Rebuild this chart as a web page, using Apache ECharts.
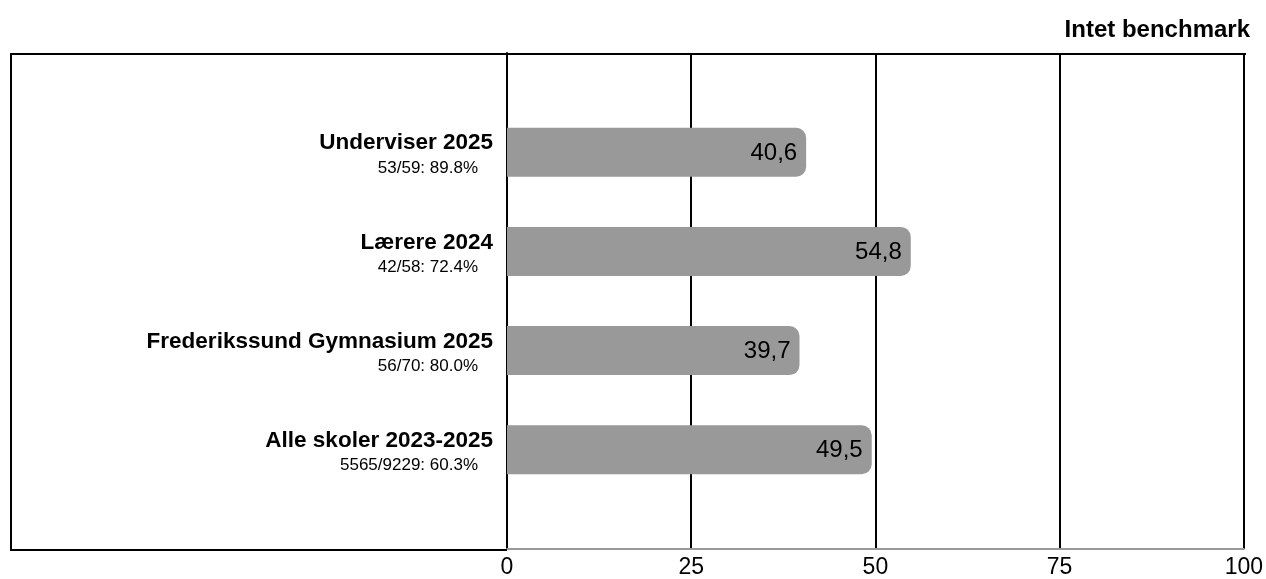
<!DOCTYPE html>
<html>
<head>
<meta charset="utf-8">
<script src="https://cdn.jsdelivr.net/npm/echarts@6/dist/echarts.min.js"></script>
<style>
html,body{margin:0;padding:0;background:#fff;}
#chart{width:1266px;height:579px;}
</style>
</head>
<body>
<div id="chart"></div>
<script>
var titleText = 'Intet benchmark';
var categories = ['Underviser 2025', 'Lærere 2024', 'Frederikssund Gymnasium 2025', 'Alle skoler 2023-2025'];
var subtitles = ['53/59: 89.8%', '42/58: 72.4%', '56/70: 80.0%', '5565/9229: 60.3%'];
var values = [40.6, 54.8, 39.7, 49.5];
var xTicks = [0, 25, 50, 75, 100];

var FONT = "'Liberation Sans', Arial, Helvetica, sans-serif";

// pad with empty slots above and below, as in the reference
var yCats = [''].concat(categories).concat(['']);
var barData = ['-'].concat(values).concat(['-']);
var subMap = {};
categories.forEach(function (c, i) { subMap[c] = subtitles[i]; });

var chart = echarts.init(document.getElementById('chart'), null, {renderer: 'canvas'});
var option = {
  animation: false,
  backgroundColor: '#fff',
  title: {
    text: titleText,
    right: 16,
    top: 18,
    padding: 0,
    textStyle: {fontFamily: FONT, fontSize: 24, fontWeight: 'bold', color: '#000'}
  },
  grid: {left: 507, right: 21, top: 53, bottom: 29, containLabel: false},
  xAxis: {
    type: 'value',
    min: 0, max: 100, interval: 25,
    axisLine: {show: true, lineStyle: {color: '#999', width: 2}},
    axisTick: {show: false},
    splitLine: {show: true, lineStyle: {color: '#000', width: 2}},
    axisLabel: {
      fontFamily: FONT, fontSize: 23, color: '#000', margin: 7,
      formatter: function (v) { return xTicks.indexOf(v) >= 0 ? String(v) : ''; }
    }
  },
  yAxis: {
    type: 'category',
    data: yCats,
    inverse: true,
    boundaryGap: false,
    axisLine: {show: true, lineStyle: {color: '#000', width: 2}},
    axisTick: {show: false},
    splitLine: {show: false},
    axisLabel: {
      margin: 14,
      align: 'right',
      formatter: function (v) {
        if (!v) return '';
        return '{n|' + v + '}\n{s|' + subMap[v] + '}';
      },
      rich: {
        n: {fontFamily: FONT, fontSize: 22.5, fontWeight: 'bold', color: '#000', lineHeight: 32, align: 'right'},
        s: {fontFamily: FONT, fontSize: 17, color: '#000', lineHeight: 18, align: 'right', padding: [0, 15, 0, 0]}
      }
    }
  },
  series: [{
    type: 'bar',
    data: barData,
    barWidth: 49,
    itemStyle: {color: '#999999', borderRadius: [0, 10, 10, 0]},
    label: {
      show: true,
      position: 'insideRight',
      distance: 9,
      offset: [0, 1],
      fontFamily: FONT, fontSize: 24, color: '#000',
      formatter: function (p) { return String(p.value).replace('.', ','); }
    }
  }],
  graphic: [
    {type: 'line', shape: {x1: 10, y1: 54, x2: 1246, y2: 54}, style: {stroke: '#000', lineWidth: 2}, z: 10},
    {type: 'line', shape: {x1: 11, y1: 53, x2: 11, y2: 551}, style: {stroke: '#000', lineWidth: 2}, z: 10},
    {type: 'line', shape: {x1: 10, y1: 550, x2: 507, y2: 550}, style: {stroke: '#000', lineWidth: 2}, z: 10}
  ]
};
chart.setOption(option);
</script>
</body>
</html>
